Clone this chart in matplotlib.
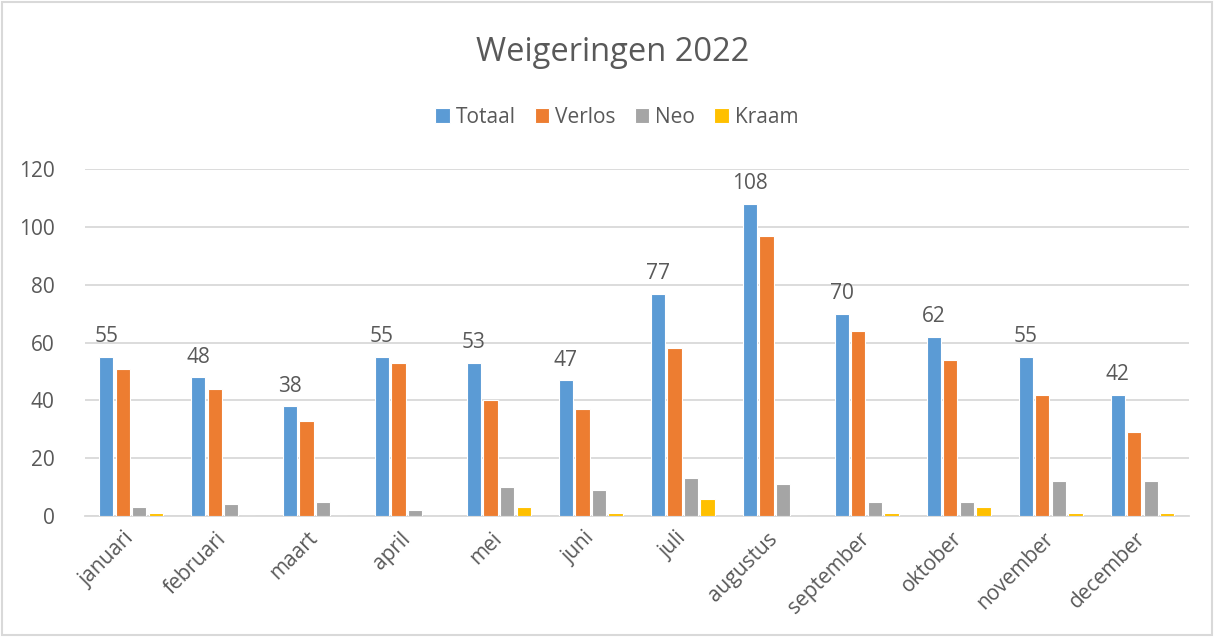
import numpy as np
import matplotlib
matplotlib.use('Agg')
import matplotlib.pyplot as plt
from matplotlib.patches import Rectangle

# --- data ---
maanden = ['januari', 'februari', 'maart', 'april', 'mei', 'juni',
           'juli', 'augustus', 'september', 'oktober', 'november', 'december']
totaal = [55, 48, 38, 55, 53, 47, 77, 108, 70, 62, 55, 42]
verlos = [51, 44, 33, 53, 40, 37, 58, 97, 64, 54, 42, 29]
neo = [3, 4, 5, 2, 10, 9, 13, 11, 5, 5, 12, 12]
kraam = [1, 0, 0, 0, 3, 1, 6, 0, 1, 3, 1, 1]
series_names = ['Totaal', 'Verlos', 'Neo', 'Kraam']
kleuren = ['#5B9BD5', '#ED7D31', '#A5A5A5', '#FFC000']

# --- style ---
plt.rcParams['font.family'] = ['Open Sans', 'DejaVu Sans']
TXT = '#595959'
GRID = '#D9D9D9'

fig = plt.figure(figsize=(12.14, 6.37), dpi=100)
ax = fig.add_axes([0.070, 0.190, 0.909, 0.544])

x = np.arange(len(maanden))
step = 0.18
width = 0.155
for i, (vals, name, kleur) in enumerate(zip([totaal, verlos, neo, kraam], series_names, kleuren)):
    offs = (i - 1.5) * step
    ax.bar(x + offs, vals, width=width, color=kleur, label=name,
           edgecolor='white', linewidth=0.8, zorder=3)

# data labels on Totaal
for xi, v in zip(x, totaal):
    ax.annotate(str(v), (xi - 1.5 * step, v), xytext=(0, 7), textcoords='offset points',
                ha='center', va='bottom', fontsize=15, color=TXT)

ax.set_xlim(-0.5, len(maanden) - 0.5)
ax.set_ylim(0, 120)
ax.set_yticks(np.arange(0, 121, 20))
ax.yaxis.grid(True, color=GRID, linewidth=1.3, zorder=0)
ax.set_axisbelow(True)
for s in ['top', 'left', 'right']:
    ax.spines[s].set_visible(False)
ax.spines['bottom'].set_color(GRID)
ax.spines['bottom'].set_linewidth(1.3)
ax.tick_params(axis='both', length=0, labelsize=15, colors=TXT)
ax.tick_params(axis='y', pad=22)
ax.set_xticks(x)
ax.set_xticklabels(maanden, rotation=45, ha='right', va='center', rotation_mode='anchor')
ax.tick_params(axis='x', pad=14)

fig.text(0.505, 0.918, 'Weigeringen 2022', ha='center', va='center', fontsize=23.5, color=TXT)
fig.legend(loc='center', bbox_to_anchor=(0.508, 0.816), ncol=4, frameon=False,
           fontsize=15, labelcolor=TXT, handlelength=0.7, handleheight=0.7,
           handletextpad=0.3, columnspacing=0.9)

# figure border
fig.patches.append(Rectangle((0.002, 0.003), 0.996, 0.994, transform=fig.transFigure,
                             fill=False, edgecolor=GRID, linewidth=1.5))

fig.savefig('out.png', dpi=100)
